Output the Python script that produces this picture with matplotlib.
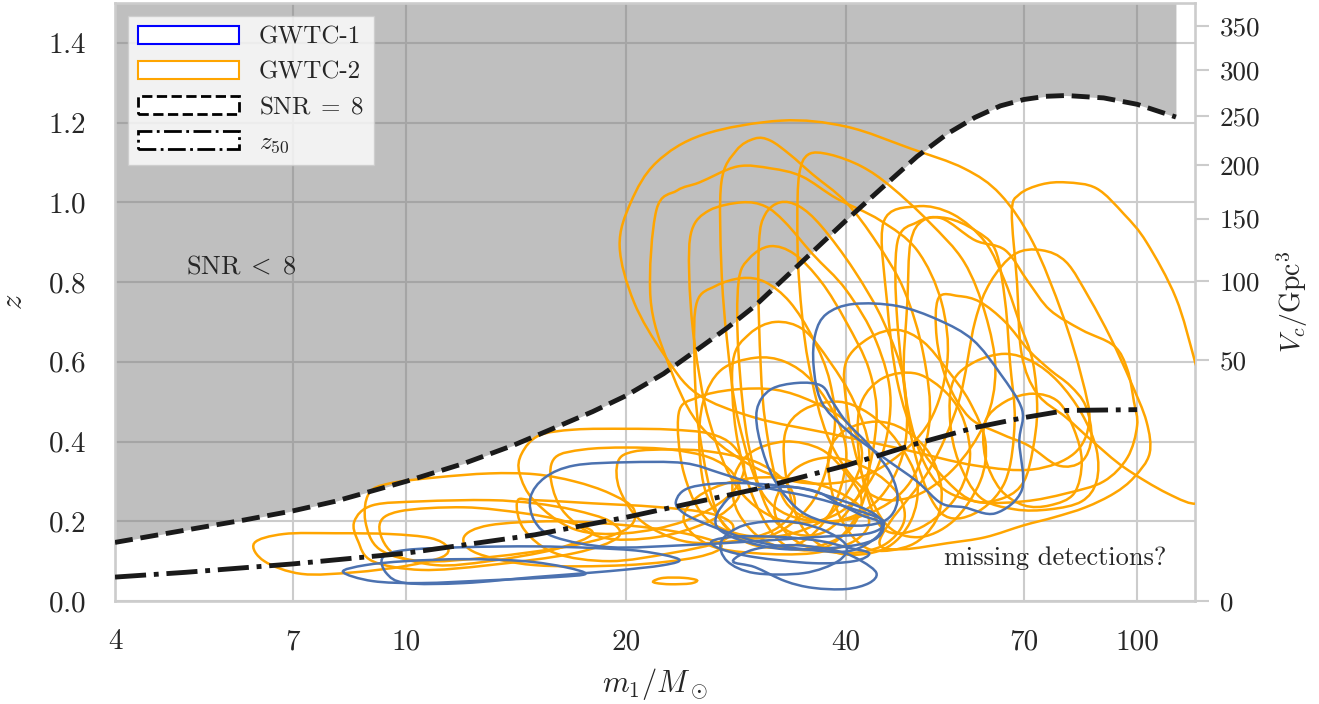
import numpy as np
import matplotlib
matplotlib.use("Agg")
import matplotlib.pyplot as plt
from matplotlib.path import Path
from matplotlib.patches import PathPatch, Patch
from matplotlib.ticker import NullLocator, FixedLocator, FixedFormatter
import seaborn as sns

# ---------------- data ----------------
xticks = [4, 7, 10, 20, 40, 70, 100]
vc_ticks = [0, 50, 100, 150, 200, 250, 300, 350]

snr_m = [4, 5, 6, 7, 8, 10, 12, 14, 16, 18, 20, 22.5, 25, 27.5, 30, 35, 40, 45, 50, 55, 60,
         65, 70, 75, 80, 90, 100, 113]
snr_z = [0.147, 0.178, 0.203, 0.226, 0.25, 0.30, 0.345, 0.39, 0.435, 0.475, 0.515, 0.57, 0.63,
         0.685, 0.74, 0.855, 0.955, 1.04, 1.115, 1.172, 1.213, 1.242, 1.258, 1.266, 1.268,
         1.262, 1.246, 1.214]

z50_m = [4, 5, 7, 10, 15, 20, 30, 40, 50, 60, 70, 80, 100]
z50_z = [0.06, 0.072, 0.093, 0.12, 0.166, 0.21, 0.28, 0.34, 0.395, 0.435, 0.46, 0.478, 0.48]

# credible-region outlines (m1 [Msun], z)
gwtc1_contours = [
    [(8.2, 0.073), (8.8, 0.09), (10, 0.1), (12, 0.105), (14.5, 0.1), (16.5, 0.085), (17.6, 0.068),
     (16, 0.06), (13, 0.052), (10.5, 0.045), (9, 0.05)],
    [(9.3, 0.11), (10, 0.128), (12, 0.135), (15, 0.137), (18, 0.133), (21, 0.125), (23.6, 0.105),
     (22.5, 0.09), (19, 0.075), (15, 0.06), (12, 0.045), (10, 0.045), (9.4, 0.07)],
    [(14.8, 0.26), (15.5, 0.31), (17, 0.34), (20, 0.348), (24, 0.346), (27, 0.32), (31, 0.285),
     (36, 0.26), (41, 0.23), (45, 0.2), (43, 0.17), (36, 0.16), (30, 0.15), (24, 0.14), (19, 0.135),
     (16, 0.16), (15, 0.2)],
    [(36.3, 0.67), (37.6, 0.72), (40.9, 0.745), (47, 0.74), (53.5, 0.705), (59.6, 0.655), (65, 0.57),
     (69.6, 0.48), (69, 0.4), (69.6, 0.28), (64, 0.22), (58, 0.235), (54, 0.245), (50, 0.3),
     (45, 0.36), (40, 0.43), (37, 0.5), (36.1, 0.59)],
    [(30.2, 0.48), (31.5, 0.53), (34.3, 0.547), (37, 0.54), (38.3, 0.5), (40, 0.45), (43, 0.39),
     (46, 0.32), (47, 0.25), (45, 0.2), (40, 0.19), (35, 0.22), (32, 0.3), (30.5, 0.4)],
    [(23.4, 0.25), (24.5, 0.285), (28.5, 0.296), (35.5, 0.28), (39, 0.245), (42, 0.215), (44.6, 0.196),
     (44, 0.16), (40.3, 0.125), (35, 0.13), (30, 0.15), (26, 0.19), (24, 0.22)],
    [(26.2, 0.15), (28.5, 0.162), (33, 0.16), (37, 0.15), (40, 0.135), (43, 0.12), (41, 0.1),
     (36, 0.095), (30, 0.11), (27, 0.13)],
    [(28, 0.1), (30, 0.085), (33, 0.05), (36, 0.033), (40, 0.03), (43, 0.045), (44, 0.07),
     (42, 0.1), (39, 0.125), (34, 0.14), (30, 0.13)],
    [(27, 0.15), (29, 0.19), (33, 0.2), (37, 0.18), (40, 0.14), (39, 0.1), (35, 0.07), (30, 0.07),
     (27.5, 0.1)],
    [(26.5, 0.2), (27, 0.236), (28.5, 0.27), (33.7, 0.286), (39.3, 0.253), (43.6, 0.22), (45, 0.186),
     (43.6, 0.153), (39.3, 0.135), (33, 0.13), (29, 0.15), (27, 0.175)],
]

gwtc2_contours = [
    [(6.2, 0.145), (6.8, 0.168), (8, 0.17), (9.5, 0.168), (10.8, 0.158), (11.4, 0.135), (11.2, 0.11),
     (10, 0.088), (8.5, 0.072), (7.2, 0.068), (6.4, 0.1)],
    [(8.9, 0.27), (9.5, 0.295), (11, 0.31), (13, 0.32), (15, 0.318), (17, 0.3), (19, 0.27), (20.5, 0.23),
     (20, 0.18), (17, 0.14), (13, 0.11), (10.5, 0.1), (9.2, 0.13), (8.8, 0.2)],
    [(8.5, 0.2), (9, 0.24), (10.5, 0.25), (13, 0.253), (15, 0.245), (17, 0.228), (19, 0.2), (19.5, 0.16),
     (17, 0.12), (13, 0.09), (10.5, 0.078), (9, 0.1), (8.6, 0.15)],
    [(9.2, 0.19), (9.8, 0.225), (12, 0.235), (14.5, 0.22), (16.5, 0.2), (18, 0.17), (16, 0.13),
     (13, 0.1), (11, 0.09), (9.6, 0.12)],
    [(14.4, 0.37), (15.2, 0.415), (17, 0.43), (20, 0.432), (23, 0.43), (26, 0.42), (28, 0.39), (29, 0.33),
     (27.5, 0.26), (24, 0.2), (20, 0.17), (17, 0.18), (15, 0.25), (14.3, 0.32)],
    [(14.2, 0.25), (15, 0.253), (18, 0.245), (22, 0.236), (26, 0.22), (28, 0.19), (27, 0.15), (23, 0.12),
     (19, 0.1), (16, 0.12), (14.5, 0.18)],
    [(21.8, 0.05), (22.5, 0.058), (24, 0.058), (25, 0.052), (24.5, 0.044), (23, 0.042), (22, 0.045)],
    [(16, 0.36), (17.5, 0.38), (20, 0.385), (23, 0.38), (26, 0.36), (28, 0.32), (28.5, 0.26), (26, 0.2),
     (22, 0.16), (18.5, 0.16), (16.5, 0.22), (15.8, 0.3)],
    [(19.5, 0.35), (20.5, 0.375), (23, 0.38), (26, 0.375), (30, 0.35), (33, 0.3), (34, 0.24), (32, 0.18),
     (28, 0.15), (24, 0.15), (21, 0.2), (19.6, 0.28)],
    [(12, 0.16), (13, 0.19), (16, 0.2), (20, 0.19), (24, 0.17), (27, 0.14), (25, 0.11), (20, 0.09),
     (15, 0.09), (12.5, 0.12)],
    [(24, 0.2), (25, 0.26), (28, 0.3), (32, 0.31), (37, 0.29), (41, 0.25), (43, 0.2), (41, 0.15),
     (36, 0.12), (30, 0.12), (26, 0.14)],
    [(28, 0.3), (29.5, 0.37), (33, 0.4), (37, 0.38), (40, 0.32), (42, 0.25), (40, 0.17), (35, 0.13),
     (31, 0.15), (28.5, 0.22)],
    [(32, 0.25), (34, 0.33), (38, 0.36), (43, 0.33), (47, 0.27), (48, 0.2), (45, 0.14), (40, 0.12),
     (35, 0.14), (32.5, 0.19)],
    [(19.6, 0.89), (20.3, 1.0), (22, 1.1), (25.5, 1.17), (32.6, 1.205), (40, 1.19), (49, 1.135),
     (58, 1.085), (65, 1.02), (72, 0.9), (79, 0.72), (84, 0.56), (86, 0.45), (82, 0.37), (72, 0.33),
     (60, 0.34), (48, 0.38), (38, 0.42), (30, 0.46), (25, 0.52), (22.5, 0.62), (20.5, 0.75)],
    [(21.6, 0.76), (22, 0.98), (23.5, 1.03), (25.2, 1.05), (28.4, 1.09), (31.6, 1.085), (34.8, 1.065),
     (38.8, 1.01), (44.5, 0.955), (50, 0.88), (54, 0.75), (55, 0.6), (52, 0.45), (46, 0.35), (40, 0.3),
     (34, 0.3), (29, 0.35), (25, 0.45), (22.8, 0.6)],
    [(27, 0.84), (27, 1.05), (28.3, 1.13), (30, 1.16), (31.5, 1.155), (33.5, 1.12), (36, 1.07), (40, 1.0),
     (44, 0.9), (48, 0.78), (51, 0.62), (52, 0.45), (49, 0.3), (43, 0.22), (36, 0.2), (31, 0.26),
     (28.5, 0.45), (27.5, 0.65)],
    [(34.3, 0.95), (34.5, 1.07), (35.5, 1.12), (38, 1.12), (42, 1.09), (46, 1.04), (52, 0.95), (58, 0.85),
     (62, 0.72), (64, 0.58), (62, 0.45), (56, 0.33), (49, 0.26), (43, 0.27), (38, 0.4), (35.5, 0.6),
     (34.5, 0.8)],
    [(24.6, 0.93), (26, 0.98), (28.8, 1.0), (31, 0.99), (33, 0.95), (36, 0.87), (40, 0.78), (44, 0.65),
     (46, 0.5), (44, 0.33), (39, 0.22), (33, 0.2), (28.5, 0.28), (26, 0.45), (24.8, 0.65), (24.4, 0.82)],
    [(30.4, 0.9), (31, 0.97), (32.5, 1.0), (34.5, 0.99), (37, 0.94), (41, 0.83), (45, 0.7), (48, 0.55),
     (48, 0.38), (44, 0.25), (38, 0.2), (33, 0.25), (31, 0.45), (30.4, 0.7)],
    [(28.5, 0.8), (29.5, 0.86), (31.5, 0.89), (34, 0.87), (37, 0.8), (40, 0.7), (43, 0.58), (44, 0.45),
     (42, 0.28), (37, 0.17), (32, 0.2), (29.5, 0.38), (28.5, 0.62)],
    [(25, 0.75), (26.5, 0.79), (28.8, 0.81), (31, 0.8), (33.5, 0.75), (36, 0.66), (38, 0.55), (38.5, 0.42),
     (36, 0.25), (31, 0.16), (27, 0.2), (25.2, 0.42), (24.8, 0.62)],
    [(23.6, 0.47), (25, 0.51), (28, 0.53), (32, 0.53), (36, 0.5), (40, 0.45), (42, 0.38), (41, 0.3),
     (37, 0.2), (31, 0.16), (26, 0.2), (24, 0.32)],
    [(25.5, 0.5), (27, 0.58), (30, 0.61), (33, 0.6), (36, 0.55), (39, 0.45), (40, 0.35), (38, 0.22),
     (34, 0.14), (29, 0.15), (26, 0.25), (25.2, 0.38)],
    [(28, 0.6), (29.5, 0.67), (32, 0.7), (35, 0.68), (38, 0.6), (41, 0.5), (43, 0.38), (42, 0.24),
     (38, 0.14), (33, 0.14), (30, 0.25), (28.3, 0.42)],
    [(45, 0.95), (50, 0.99), (56, 0.97), (62, 0.9), (66, 0.8), (69, 0.7), (72, 0.6), (73, 0.48),
     (72, 0.38), (70, 0.3), (66, 0.26), (60, 0.25), (55, 0.3), (50, 0.4), (47, 0.55), (45.5, 0.75)],
    [(49, 0.9), (51, 0.955), (55, 0.96), (60, 0.93), (64, 0.88), (66, 0.75), (67, 0.6), (68, 0.45),
     (66, 0.3), (60, 0.22), (54, 0.22), (50, 0.35), (48, 0.55), (48.5, 0.75)],
    [(53.5, 0.76), (57, 0.765), (61, 0.75), (66, 0.7), (71, 0.63), (76, 0.58), (81, 0.54), (85, 0.49),
     (86.6, 0.41), (84, 0.35), (78, 0.34), (71, 0.39), (65, 0.42), (59, 0.46), (55, 0.55), (53.2, 0.66)],
    [(40, 0.6), (43, 0.66), (47, 0.68), (51, 0.65), (55, 0.58), (59, 0.5), (62, 0.4), (61, 0.3), (56, 0.2),
     (50, 0.16), (45, 0.2), (41.5, 0.35), (40, 0.5)],
    [(42, 0.5), (45, 0.56), (50, 0.57), (55, 0.52), (58, 0.45), (59, 0.35), (56, 0.25), (50, 0.18),
     (45, 0.18), (42.5, 0.28), (41.5, 0.4)],
    [(38, 0.38), (40, 0.43), (44, 0.45), (48, 0.43), (52, 0.37), (54, 0.28), (53, 0.2), (49, 0.14),
     (43, 0.13), (39.5, 0.2), (38, 0.3)],
    [(33, 0.42), (35, 0.48), (39, 0.5), (43, 0.47), (47, 0.4), (50, 0.3), (49, 0.2), (45, 0.13), (39, 0.12),
     (35, 0.18), (33.2, 0.3)],
    [(47, 0.9), (50, 0.95), (54, 0.96), (60, 0.905), (66, 0.88), (71, 0.8), (76, 0.73), (84, 0.68),
     (93, 0.64), (97, 0.58), (99, 0.5), (100, 0.44), (97, 0.36), (90, 0.3), (80, 0.27), (70, 0.25),
     (60, 0.25), (53, 0.3), (49, 0.45), (47, 0.7)],
    [(56, 0.55), (60, 0.6), (66, 0.62), (72, 0.6), (78, 0.55), (84, 0.47), (88, 0.38), (88, 0.3), (84, 0.25),
     (76, 0.23), (68, 0.23), (61, 0.26), (57, 0.35), (55.5, 0.45)],
    [(62, 0.45), (66, 0.5), (72, 0.52), (78, 0.5), (82, 0.43), (84, 0.35), (82, 0.27), (76, 0.24), (70, 0.24),
     (65, 0.28), (62, 0.36)],
    [(60, 0.7), (63, 0.8), (68, 0.87), (74, 0.88), (80, 0.85), (86, 0.76), (92, 0.66), (98, 0.55),
     (103, 0.45), (104, 0.37), (99, 0.31), (93, 0.27), (85, 0.235), (77, 0.21), (70, 0.19), (62, 0.16),
     (55, 0.145), (48, 0.13), (44.5, 0.14), (46, 0.2), (52, 0.33), (57, 0.5)],
    [(67.4, 0.975), (69, 1.02), (74, 1.045), (80, 1.05), (88, 1.035), (96, 0.97), (103, 0.9), (113, 0.76),
     (120, 0.6), (126, 0.45), (125, 0.3), (121, 0.245), (110, 0.27), (96, 0.335), (87, 0.4), (80, 0.46),
     (73, 0.52), (69.5, 0.62), (68.5, 0.8)],
]

# ---------------- style ----------------
sns.set_theme(style="whitegrid")
plt.rcParams.update({
    "font.family": "serif",
    "font.serif": ["cmr10"],
    "mathtext.fontset": "cm",
    "axes.formatter.use_mathtext": True,
    "axes.unicode_minus": False,
    "grid.color": "0.8",
    "grid.linewidth": 1.5,
    "axes.edgecolor": "0.8",
    "axes.linewidth": 1.9,
})

C1 = "#4C72B0"
C2 = "orange"


def smooth_path(pts):
    P = np.array([(np.log10(m), z) for m, z in pts])
    n = len(P)
    verts = [P[0]]
    codes = [Path.MOVETO]
    for i in range(n):
        p0, p1, p2, p3 = P[i - 1], P[i], P[(i + 1) % n], P[(i + 2) % n]
        verts += [p1 + (p2 - p0) / 6.0, p2 - (p3 - p1) / 6.0, p2]
        codes += [Path.CURVE4] * 3
    verts = np.array(verts)
    verts[:, 0] = 10 ** verts[:, 0]
    return Path(verts, codes)


fig = plt.figure(figsize=(13.19, 7.04), dpi=100)
ax = fig.add_axes([0.0872, 0.1463, 0.8188, 0.8494])
ax.set_xscale("log")
ax.set_xlim(4, 120)
ax.set_ylim(0, 1.5)

ax.fill_between(snr_m, snr_z, 1.5, color="gray", alpha=0.5, lw=0, zorder=1)

for c in gwtc2_contours:
    ax.add_patch(PathPatch(smooth_path(c), facecolor="none", edgecolor=C2, lw=1.8, zorder=3))
for c in gwtc1_contours:
    ax.add_patch(PathPatch(smooth_path(c), facecolor="none", edgecolor=C1, lw=1.8, zorder=3.2))

ax.plot(snr_m, snr_z, ls="--", color="0.1", lw=3.5, zorder=4)
ax.plot(z50_m, z50_z, ls="-.", color="0.1", lw=3.5, zorder=4)

ax.text(5.0, 0.84, r"$\mathrm{SNR}\;<\;8$", fontsize=19, va="center", ha="left", zorder=6)
ax.text(54.5, 0.108, "missing detections?", fontsize=19, va="center", ha="left", zorder=6)

ax.xaxis.set_major_locator(FixedLocator(xticks))
ax.xaxis.set_major_formatter(FixedFormatter([str(t) for t in xticks]))
ax.xaxis.set_minor_locator(NullLocator())
ax.tick_params(axis="x", length=0, pad=20, labelsize=21)
ax.tick_params(axis="y", length=0, pad=21, labelsize=21)
ax.set_xlabel(r"$m_1/M_\odot$", fontsize=22, labelpad=8)
ax.set_ylabel(r"$z$", fontsize=22, labelpad=14)

# comoving volume axis (flat LCDM, Planck15)
H0, Om = 67.74, 0.3075
zg = np.linspace(0, 2.0, 4001)
Ez = np.sqrt(Om * (1 + zg) ** 3 + (1 - Om))
Dc = (299792.458 / H0) * np.concatenate([[0], np.cumsum(0.5 * (1 / Ez[1:] + 1 / Ez[:-1]) * np.diff(zg))])
Vc = 4.0 / 3.0 * np.pi * (Dc / 1000.0) ** 3
vc_pos = np.interp(vc_ticks, Vc, zg)

ax2 = ax.twinx()
ax2.set_ylim(0, 1.5)
ax2.grid(False)
ax2.yaxis.set_major_locator(FixedLocator(vc_pos))
ax2.yaxis.set_major_formatter(FixedFormatter([str(v) for v in vc_ticks]))
ax2.tick_params(axis="y", right=True, length=10, width=1.5, color="0.8", pad=8, labelsize=19.5)
ax2.set_ylabel(r"$V_c/\mathrm{Gpc}^3$", fontsize=20, labelpad=10)
for s in ax2.spines.values():
    s.set_visible(False)

handles = [
    Patch(facecolor="white", edgecolor="blue", lw=1.5),
    Patch(facecolor="white", edgecolor="orange", lw=1.5),
    Patch(facecolor="white", edgecolor="black", lw=2.0, ls="--"),
    Patch(facecolor="white", edgecolor="black", lw=2.0, ls="-."),
]
labels = ["GWTC-1", "GWTC-2", r"$\mathrm{SNR}\;=\;8$", r"$z_{50}$"]
leg = ax.legend(handles, labels, loc="upper left", fontsize=18, handlelength=4.05,
                handleheight=0.73, fancybox=False, framealpha=0.8, borderaxespad=0.5)
leg.set_zorder(10)

fig.savefig("out.png", dpi=100)
